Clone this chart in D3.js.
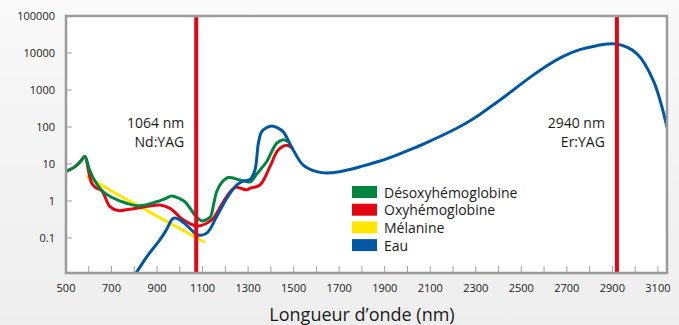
<!DOCTYPE html>
<html>
<head>
<meta charset="utf-8">
<script src="https://cdn.jsdelivr.net/npm/d3@7"></script>
<style>
  body { margin: 0; background: #f4f4f4; }
  svg { display: block; font-family: "Open Sans", sans-serif; }
</style>
</head>
<body>
<div id="canvas"></div>
<script>
// wavelengths (nm) and absorption values
const desoxyNm  = [500, 540, 565, 583, 600, 620, 662, 700, 766, 825, 898, 935, 964, 1000, 1023, 1066, 1096, 1120, 1135, 1150, 1162, 1185, 1213, 1264, 1308, 1340, 1381, 1425, 1454, 1476];
const desoxyVal = [6.3, 8.5, 12, 16, 8, 4.1, 1.8, 1.26, 0.87, 0.74, 0.95, 1.15, 1.36, 1.15, 0.95, 0.42, 0.29, 0.32, 0.38, 0.9, 1.8, 3.2, 4.3, 3.7, 3.3, 5.6, 11.5, 36, 45, 40];

const oxyNm  = [500, 540, 565, 583, 600, 613, 630, 657, 693, 730, 780, 825, 913, 957, 1015, 1074, 1118, 1147, 1191, 1242, 1294, 1308, 1352, 1396, 1432, 1469, 1491];
const oxyVal = [6.3, 8.5, 12, 16, 6, 3.0, 2.3, 1.9, 0.7, 0.55, 0.6, 0.66, 0.78, 0.63, 0.31, 0.21, 0.25, 0.34, 0.95, 2.3, 2.0, 2.2, 2.7, 8.5, 24, 32, 28];

const melaninNm  = [595, 700, 800, 900, 1000, 1105];
const melaninVal = [4.5, 1.86, 0.85, 0.39, 0.18, 0.079];

const eauNm  = [800, 861, 913, 942, 971, 1000, 1030, 1081, 1118, 1162, 1206, 1250, 1280, 1308, 1330, 1345, 1359, 1380, 1403, 1430, 1454, 1498, 1542, 1601, 1659, 1730, 1806, 1880, 1952, 2025, 2099, 2172, 2245, 2318, 2391, 2465, 2538, 2611, 2684, 2757, 2831, 2918, 3006, 3079, 3140];
const eauVal = [0.0095, 0.035, 0.09, 0.17, 0.34, 0.31, 0.22, 0.12, 0.135, 0.38, 1.17, 2.7, 3.5, 3.8, 6.9, 36, 74, 95, 107, 95, 74, 24, 9.3, 6.2, 5.75, 6.76, 8.9, 12, 17.4, 26.3, 41.7, 67.6, 115, 219, 457, 1000, 2190, 4470, 8130, 12300, 15800, 17400, 9800, 1860, 100];

const seriesNames  = ["Désoxyhémoglobine", "Oxyhémoglobine", "Mélanine", "Eau"];
const seriesColors = ["#00853f", "#e30613", "#ffe600", "#0057a3"];

const laserPos    = [1072, 2920];
const laserLabels = [["1064 nm", "Nd:YAG"], ["2940 nm", "Er:YAG"]];

const xTicks      = d3.range(500, 3101, 100);
const xTickLabels = d3.range(500, 3101, 200);
const yTicks      = [0.1, 1, 10, 100, 1000, 10000, 100000];

const width = 679;
const height = 325;

const svg = d3.select("#canvas").append("svg")
  .attr("width", width)
  .attr("height", height);

const defs = svg.append("defs");
const grad = defs.append("linearGradient")
  .attr("id", "bg").attr("x1", 0).attr("y1", 0).attr("x2", 0).attr("y2", 1);
grad.append("stop").attr("offset", "0%").attr("stop-color", "#f9f9f9");
grad.append("stop").attr("offset", "100%").attr("stop-color", "#eeeeee");

svg.append("rect")
  .attr("width", width).attr("height", height)
  .attr("fill", "url(#bg)");

const x = d3.scaleLinear()
  .domain([500, 3140])
  .range([66, 667]);

const y = d3.scaleLog()
  .domain([0.0113, 100000])
  .range([273, 16]);

// plot area
svg.append("rect")
  .attr("x", x.range()[0]).attr("y", y.range()[1])
  .attr("width", x.range()[1] - x.range()[0])
  .attr("height", y.range()[0] - y.range()[1])
  .attr("fill", "#fff");

defs.append("clipPath").attr("id", "plot")
  .append("rect")
  .attr("x", x.range()[0]).attr("y", y.range()[1])
  .attr("width", x.range()[1] - x.range()[0])
  .attr("height", y.range()[0] - y.range()[1]);

// ticks
svg.append("g")
  .selectAll("line").data(xTicks.slice(1))
  .join("line")
  .attr("x1", d => x(d)).attr("x2", d => x(d))
  .attr("y1", y.range()[0]).attr("y2", y.range()[0] - 7)
  .attr("stroke", "#a0a0a0").attr("stroke-width", 1);

svg.append("g")
  .selectAll("line").data(yTicks.slice(0, -1))
  .join("line")
  .attr("x1", x.range()[0]).attr("x2", x.range()[0] + 6)
  .attr("y1", d => y(d)).attr("y2", d => y(d))
  .attr("stroke", "#a0a0a0").attr("stroke-width", 1);

svg.append("g")
  .selectAll("text").data(xTickLabels)
  .join("text")
  .attr("x", d => x(d)).attr("y", 292)
  .attr("text-anchor", "middle")
  .attr("font-size", 11).attr("fill", "#1a1a1a")
  .text(d => d);

svg.append("g")
  .selectAll("text").data(yTicks)
  .join("text")
  .attr("x", 55).attr("y", d => y(d) + 4)
  .attr("text-anchor", "end")
  .attr("font-size", 11).attr("fill", "#1a1a1a")
  .text(d => d3.format("")(d));

// curves
const line = d3.line()
  .x(d => x(d[0]))
  .y(d => y(d[1]))
  .curve(d3.curveCatmullRom.alpha(0.5));

const series = [
  { nm: melaninNm, val: melaninVal, i: 2 },
  { nm: oxyNm, val: oxyVal, i: 1 },
  { nm: desoxyNm, val: desoxyVal, i: 0 },
  { nm: eauNm, val: eauVal, i: 3 }
];

const curves = svg.append("g").attr("clip-path", "url(#plot)");
series.forEach(s => {
  curves.append("path")
    .datum(s.nm.map((n, k) => [n, s.val[k]]))
    .attr("d", line)
    .attr("fill", "none")
    .attr("stroke", seriesColors[s.i])
    .attr("stroke-width", 3)
    .attr("stroke-linejoin", "round")
    .attr("stroke-linecap", "round");
});

// laser lines
svg.append("g")
  .selectAll("line").data(laserPos)
  .join("line")
  .attr("x1", d => x(d)).attr("x2", d => x(d))
  .attr("y1", y.range()[1]).attr("y2", y.range()[0])
  .attr("stroke", "#e30613").attr("stroke-width", 4);

laserPos.forEach((p, i) => {
  const t = svg.append("text")
    .attr("text-anchor", "end")
    .attr("font-size", 14).attr("fill", "#1a1a1a");
  t.append("tspan").attr("x", x(p) - 12).attr("y", 128).text(laserLabels[i][0]);
  t.append("tspan").attr("x", x(p) - 12).attr("y", 147).text(laserLabels[i][1]);
});

// frame
svg.append("path")
  .attr("d", `M${x.range()[0]},${y.range()[0]}V${y.range()[1]}H${x.range()[1]}V${y.range()[0]}Z`)
  .attr("fill", "none")
  .attr("stroke", "#9b9b9b")
  .attr("stroke-width", 2.5);

// legend
const legend = svg.append("g").attr("transform", "translate(352,186)");
seriesNames.forEach((name, i) => {
  legend.append("rect")
    .attr("x", 0).attr("y", i * 17.7)
    .attr("width", 25).attr("height", 12)
    .attr("fill", seriesColors[i]);
  legend.append("text")
    .attr("x", 32).attr("y", i * 17.7 + 11.5)
    .attr("font-size", 14).attr("fill", "#1a1a1a")
    .text(name);
});

// axis title
svg.append("text")
  .attr("x", 362).attr("y", 321)
  .attr("text-anchor", "middle")
  .attr("font-size", 18).attr("fill", "#1a1a1a")
  .text("Longueur d’onde (nm)");
</script>
</body>
</html>
